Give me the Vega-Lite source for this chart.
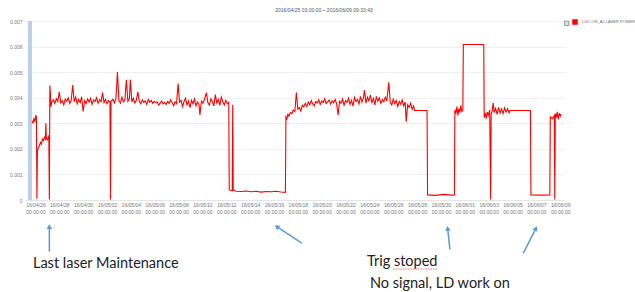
{
  "$schema": "https://vega.github.io/schema/vega-lite/v6.json",
  "width": 540,
  "height": 179,
  "autosize": {"type": "none"},
  "padding": {"left": 25, "top": 21, "right": 70, "bottom": 92},
  "background": "white",
  "config": {"view": {"stroke": null}, "font": "Liberation Sans"},
  "title": {"text": "2016/04/25 03:00:00 ~ 2016/06/09 09:33:43", "fontSize": 5, "fontWeight": "normal", "color": "#555", "anchor": "middle", "dx": 29, "offset": 6},
  "datasets": {
    "band": [{"t": "2016-04-25T09:00", "t2": "2016-04-25T17:00", "v": 0, "v2": 0.007}],
    "power": [
      {"t": "2016-04-25T17:00", "v": 0.00310},
      {"t": "2016-04-25T19:00", "v": 0.00302},
      {"t": "2016-04-25T21:00", "v": 0.00318},
      {"t": "2016-04-25T23:00", "v": 0.00308},
      {"t": "2016-04-26T01:00", "v": 0.00332},
      {"t": "2016-04-26T02:00", "v": 0.00322},
      {"t": "2016-04-26T03:00", "v": 0.00005},
      {"t": "2016-04-26T04:00", "v": 0.00192},
      {"t": "2016-04-26T06:00", "v": 0.00205},
      {"t": "2016-04-26T08:00", "v": 0.00212},
      {"t": "2016-04-26T10:00", "v": 0.00225},
      {"t": "2016-04-26T12:00", "v": 0.00218},
      {"t": "2016-04-26T14:00", "v": 0.00238},
      {"t": "2016-04-26T16:00", "v": 0.00232},
      {"t": "2016-04-26T18:00", "v": 0.00245},
      {"t": "2016-04-26T20:00", "v": 0.00238},
      {"t": "2016-04-26T21:00", "v": 0.00300},
      {"t": "2016-04-26T22:00", "v": 0.00240},
      {"t": "2016-04-27T00:00", "v": 0.00235},
      {"t": "2016-04-27T02:00", "v": 0.00248},
      {"t": "2016-04-27T03:00", "v": 0.00240},
      {"t": "2016-04-27T04:00", "v": 0.00002},
      {"t": "2016-04-27T05:00", "v": 0.00448},
      {"t": "2016-04-27T06:00", "v": 0.00420},
      {"t": "2016-04-27T07:00", "v": 0.00365},
      {"t": "2016-04-27T09:00", "v": 0.00383},
      {"t": "2016-04-27T12:00", "v": 0.00392},
      {"t": "2016-04-27T15:00", "v": 0.00378},
      {"t": "2016-04-27T18:00", "v": 0.00396},
      {"t": "2016-04-27T21:00", "v": 0.00385},
      {"t": "2016-04-28T00:00", "v": 0.00423},
      {"t": "2016-04-28T03:00", "v": 0.00380},
      {"t": "2016-04-28T06:00", "v": 0.00388},
      {"t": "2016-04-28T09:00", "v": 0.00372},
      {"t": "2016-04-28T12:00", "v": 0.00395},
      {"t": "2016-04-28T15:00", "v": 0.00386},
      {"t": "2016-04-28T18:00", "v": 0.00399},
      {"t": "2016-04-28T21:00", "v": 0.00378},
      {"t": "2016-04-29T00:00", "v": 0.00390},
      {"t": "2016-04-29T03:00", "v": 0.00450},
      {"t": "2016-04-29T06:00", "v": 0.00384},
      {"t": "2016-04-29T09:00", "v": 0.00402},
      {"t": "2016-04-29T12:00", "v": 0.00376},
      {"t": "2016-04-29T15:00", "v": 0.00393},
      {"t": "2016-04-29T18:00", "v": 0.00381},
      {"t": "2016-04-29T21:00", "v": 0.00404},
      {"t": "2016-04-30T00:00", "v": 0.00346},
      {"t": "2016-04-30T03:00", "v": 0.00389},
      {"t": "2016-04-30T06:00", "v": 0.00377},
      {"t": "2016-04-30T09:00", "v": 0.00395},
      {"t": "2016-04-30T12:00", "v": 0.00383},
      {"t": "2016-04-30T15:00", "v": 0.00398},
      {"t": "2016-04-30T18:00", "v": 0.00374},
      {"t": "2016-04-30T21:00", "v": 0.00391},
      {"t": "2016-05-01T00:00", "v": 0.00385},
      {"t": "2016-05-01T03:00", "v": 0.00400},
      {"t": "2016-05-01T06:00", "v": 0.00378},
      {"t": "2016-05-01T09:00", "v": 0.00392},
      {"t": "2016-05-01T12:00", "v": 0.00384},
      {"t": "2016-05-01T15:00", "v": 0.00420},
      {"t": "2016-05-01T18:00", "v": 0.00381},
      {"t": "2016-05-01T21:00", "v": 0.00393},
      {"t": "2016-05-02T00:00", "v": 0.00376},
      {"t": "2016-05-02T03:00", "v": 0.00389},
      {"t": "2016-05-02T06:00", "v": 0.00383},
      {"t": "2016-05-02T07:00", "v": 0.00002},
      {"t": "2016-05-02T08:00", "v": 0.00386},
      {"t": "2016-05-02T12:00", "v": 0.00394},
      {"t": "2016-05-02T15:00", "v": 0.00380},
      {"t": "2016-05-02T18:00", "v": 0.00397},
      {"t": "2016-05-02T21:00", "v": 0.00500},
      {"t": "2016-05-03T00:00", "v": 0.00388},
      {"t": "2016-05-03T03:00", "v": 0.00379},
      {"t": "2016-05-03T06:00", "v": 0.00402},
      {"t": "2016-05-03T09:00", "v": 0.00384},
      {"t": "2016-05-03T12:00", "v": 0.00391},
      {"t": "2016-05-03T15:00", "v": 0.00470},
      {"t": "2016-05-03T18:00", "v": 0.00386},
      {"t": "2016-05-03T21:00", "v": 0.00396},
      {"t": "2016-05-03T23:00", "v": 0.00470},
      {"t": "2016-05-04T02:00", "v": 0.00383},
      {"t": "2016-05-04T05:00", "v": 0.00398},
      {"t": "2016-05-04T08:00", "v": 0.00379},
      {"t": "2016-05-04T11:00", "v": 0.00390},
      {"t": "2016-05-04T14:00", "v": 0.00423},
      {"t": "2016-05-04T17:00", "v": 0.00385},
      {"t": "2016-05-04T20:00", "v": 0.00376},
      {"t": "2016-05-04T23:00", "v": 0.00392},
      {"t": "2016-05-05T02:00", "v": 0.00381},
      {"t": "2016-05-05T05:00", "v": 0.00388},
      {"t": "2016-05-05T08:00", "v": 0.00374},
      {"t": "2016-05-05T11:00", "v": 0.00393},
      {"t": "2016-05-05T14:00", "v": 0.00382},
      {"t": "2016-05-05T17:00", "v": 0.00389},
      {"t": "2016-05-05T20:00", "v": 0.00378},
      {"t": "2016-05-05T23:00", "v": 0.00386},
      {"t": "2016-05-06T02:00", "v": 0.00380},
      {"t": "2016-05-06T05:00", "v": 0.00384},
      {"t": "2016-05-06T08:00", "v": 0.00371},
      {"t": "2016-05-06T11:00", "v": 0.00379},
      {"t": "2016-05-06T14:00", "v": 0.00387},
      {"t": "2016-05-06T17:00", "v": 0.00376},
      {"t": "2016-05-06T20:00", "v": 0.00382},
      {"t": "2016-05-06T23:00", "v": 0.00374},
      {"t": "2016-05-07T02:00", "v": 0.00385},
      {"t": "2016-05-07T05:00", "v": 0.00378},
      {"t": "2016-05-07T08:00", "v": 0.00392},
      {"t": "2016-05-07T11:00", "v": 0.00381},
      {"t": "2016-05-07T14:00", "v": 0.00369},
      {"t": "2016-05-07T17:00", "v": 0.00384},
      {"t": "2016-05-07T20:00", "v": 0.00377},
      {"t": "2016-05-07T23:00", "v": 0.00455},
      {"t": "2016-05-08T02:00", "v": 0.00382},
      {"t": "2016-05-08T05:00", "v": 0.00390},
      {"t": "2016-05-08T08:00", "v": 0.00366},
      {"t": "2016-05-08T11:00", "v": 0.00385},
      {"t": "2016-05-08T14:00", "v": 0.00398},
      {"t": "2016-05-08T17:00", "v": 0.00372},
      {"t": "2016-05-08T20:00", "v": 0.00387},
      {"t": "2016-05-08T23:00", "v": 0.00361},
      {"t": "2016-05-09T02:00", "v": 0.00390},
      {"t": "2016-05-09T05:00", "v": 0.00376},
      {"t": "2016-05-09T08:00", "v": 0.00395},
      {"t": "2016-05-09T11:00", "v": 0.00368},
      {"t": "2016-05-09T14:00", "v": 0.00383},
      {"t": "2016-05-09T17:00", "v": 0.00374},
      {"t": "2016-05-09T19:00", "v": 0.00333},
      {"t": "2016-05-09T22:00", "v": 0.00387},
      {"t": "2016-05-10T01:00", "v": 0.00378},
      {"t": "2016-05-10T04:00", "v": 0.00392},
      {"t": "2016-05-10T08:00", "v": 0.00420},
      {"t": "2016-05-10T11:00", "v": 0.00380},
      {"t": "2016-05-10T14:00", "v": 0.00371},
      {"t": "2016-05-10T17:00", "v": 0.00396},
      {"t": "2016-05-10T20:00", "v": 0.00385},
      {"t": "2016-05-10T23:00", "v": 0.00368},
      {"t": "2016-05-11T02:00", "v": 0.00412},
      {"t": "2016-05-11T05:00", "v": 0.00379},
      {"t": "2016-05-11T08:00", "v": 0.00393},
      {"t": "2016-05-11T11:00", "v": 0.00370},
      {"t": "2016-05-11T14:00", "v": 0.00402},
      {"t": "2016-05-11T17:00", "v": 0.00385},
      {"t": "2016-05-11T20:00", "v": 0.00372},
      {"t": "2016-05-11T23:00", "v": 0.00390},
      {"t": "2016-05-12T02:00", "v": 0.00376},
      {"t": "2016-05-12T05:00", "v": 0.00382},
      {"t": "2016-05-12T06:00", "v": 0.00040},
      {"t": "2016-05-12T09:00", "v": 0.00037},
      {"t": "2016-05-12T12:00", "v": 0.00036},
      {"t": "2016-05-12T13:00", "v": 0.00372},
      {"t": "2016-05-12T14:00", "v": 0.00038},
      {"t": "2016-05-12T20:00", "v": 0.00034},
      {"t": "2016-05-13T06:00", "v": 0.00033},
      {"t": "2016-05-13T16:00", "v": 0.00035},
      {"t": "2016-05-14T02:00", "v": 0.00032},
      {"t": "2016-05-14T12:00", "v": 0.00034},
      {"t": "2016-05-14T22:00", "v": 0.00031},
      {"t": "2016-05-15T08:00", "v": 0.00033},
      {"t": "2016-05-15T18:00", "v": 0.00032},
      {"t": "2016-05-16T04:00", "v": 0.00034},
      {"t": "2016-05-16T14:00", "v": 0.00031},
      {"t": "2016-05-16T23:00", "v": 0.00030},
      {"t": "2016-05-17T00:00", "v": 0.00325},
      {"t": "2016-05-17T02:00", "v": 0.00318},
      {"t": "2016-05-17T04:00", "v": 0.00335},
      {"t": "2016-05-17T06:00", "v": 0.00328},
      {"t": "2016-05-17T09:00", "v": 0.00342},
      {"t": "2016-05-17T12:00", "v": 0.00338},
      {"t": "2016-05-17T15:00", "v": 0.00352},
      {"t": "2016-05-17T18:00", "v": 0.00346},
      {"t": "2016-05-17T21:00", "v": 0.00420},
      {"t": "2016-05-18T00:00", "v": 0.00355},
      {"t": "2016-05-18T03:00", "v": 0.00362},
      {"t": "2016-05-18T06:00", "v": 0.00348},
      {"t": "2016-05-18T09:00", "v": 0.00371},
      {"t": "2016-05-18T12:00", "v": 0.00364},
      {"t": "2016-05-18T15:00", "v": 0.00378},
      {"t": "2016-05-18T18:00", "v": 0.00366},
      {"t": "2016-05-18T21:00", "v": 0.00383},
      {"t": "2016-05-19T00:00", "v": 0.00372},
      {"t": "2016-05-19T03:00", "v": 0.00389},
      {"t": "2016-05-19T06:00", "v": 0.00376},
      {"t": "2016-05-19T09:00", "v": 0.00368},
      {"t": "2016-05-19T12:00", "v": 0.00385},
      {"t": "2016-05-19T15:00", "v": 0.00379},
      {"t": "2016-05-19T18:00", "v": 0.00392},
      {"t": "2016-05-19T21:00", "v": 0.00374},
      {"t": "2016-05-20T00:00", "v": 0.00387},
      {"t": "2016-05-20T03:00", "v": 0.00381},
      {"t": "2016-05-20T06:00", "v": 0.00396},
      {"t": "2016-05-20T09:00", "v": 0.00377},
      {"t": "2016-05-20T12:00", "v": 0.00384},
      {"t": "2016-05-20T15:00", "v": 0.00391},
      {"t": "2016-05-20T18:00", "v": 0.00375},
      {"t": "2016-05-20T21:00", "v": 0.00388},
      {"t": "2016-05-21T00:00", "v": 0.00380},
      {"t": "2016-05-21T03:00", "v": 0.00393},
      {"t": "2016-05-21T06:00", "v": 0.00377},
      {"t": "2016-05-21T09:00", "v": 0.00333},
      {"t": "2016-05-21T12:00", "v": 0.00386},
      {"t": "2016-05-21T15:00", "v": 0.00378},
      {"t": "2016-05-21T18:00", "v": 0.00395},
      {"t": "2016-05-21T21:00", "v": 0.00371},
      {"t": "2016-05-22T00:00", "v": 0.00389},
      {"t": "2016-05-22T03:00", "v": 0.00382},
      {"t": "2016-05-22T06:00", "v": 0.00398},
      {"t": "2016-05-22T09:00", "v": 0.00374},
      {"t": "2016-05-22T12:00", "v": 0.00390},
      {"t": "2016-05-22T15:00", "v": 0.00367},
      {"t": "2016-05-22T18:00", "v": 0.00401},
      {"t": "2016-05-22T21:00", "v": 0.00385},
      {"t": "2016-05-23T00:00", "v": 0.00393},
      {"t": "2016-05-23T03:00", "v": 0.00376},
      {"t": "2016-05-23T06:00", "v": 0.00405},
      {"t": "2016-05-23T09:00", "v": 0.00383},
      {"t": "2016-05-23T12:00", "v": 0.00398},
      {"t": "2016-05-23T14:00", "v": 0.00430},
      {"t": "2016-05-23T17:00", "v": 0.00379},
      {"t": "2016-05-23T20:00", "v": 0.00402},
      {"t": "2016-05-23T23:00", "v": 0.00388},
      {"t": "2016-05-24T02:00", "v": 0.00410},
      {"t": "2016-05-24T05:00", "v": 0.00381},
      {"t": "2016-05-24T08:00", "v": 0.00397},
      {"t": "2016-05-24T11:00", "v": 0.00372},
      {"t": "2016-05-24T14:00", "v": 0.00405},
      {"t": "2016-05-24T17:00", "v": 0.00386},
      {"t": "2016-05-24T20:00", "v": 0.00399},
      {"t": "2016-05-24T23:00", "v": 0.00378},
      {"t": "2016-05-25T02:00", "v": 0.00393},
      {"t": "2016-05-25T05:00", "v": 0.00384},
      {"t": "2016-05-25T08:00", "v": 0.00402},
      {"t": "2016-05-25T11:00", "v": 0.00387},
      {"t": "2016-05-25T15:00", "v": 0.00460},
      {"t": "2016-05-25T18:00", "v": 0.00381},
      {"t": "2016-05-25T21:00", "v": 0.00372},
      {"t": "2016-05-26T00:00", "v": 0.00394},
      {"t": "2016-05-26T03:00", "v": 0.00377},
      {"t": "2016-05-26T06:00", "v": 0.00389},
      {"t": "2016-05-26T09:00", "v": 0.00366},
      {"t": "2016-05-26T12:00", "v": 0.00385},
      {"t": "2016-05-26T15:00", "v": 0.00374},
      {"t": "2016-05-26T18:00", "v": 0.00391},
      {"t": "2016-05-26T21:00", "v": 0.00368},
      {"t": "2016-05-27T00:00", "v": 0.00383},
      {"t": "2016-05-27T02:00", "v": 0.00306},
      {"t": "2016-05-27T05:00", "v": 0.00372},
      {"t": "2016-05-27T08:00", "v": 0.00362},
      {"t": "2016-05-27T11:00", "v": 0.00378},
      {"t": "2016-05-27T14:00", "v": 0.00355},
      {"t": "2016-05-27T17:00", "v": 0.00368},
      {"t": "2016-05-27T19:00", "v": 0.00350},
      {"t": "2016-05-28T20:00", "v": 0.00350},
      {"t": "2016-05-28T21:00", "v": 0.00020},
      {"t": "2016-05-29T12:00", "v": 0.00018},
      {"t": "2016-05-30T06:00", "v": 0.00022},
      {"t": "2016-05-30T20:00", "v": 0.00019},
      {"t": "2016-05-31T03:00", "v": 0.00020},
      {"t": "2016-05-31T04:00", "v": 0.00352},
      {"t": "2016-05-31T06:00", "v": 0.00338},
      {"t": "2016-05-31T08:00", "v": 0.00365},
      {"t": "2016-05-31T10:00", "v": 0.00331},
      {"t": "2016-05-31T12:00", "v": 0.00358},
      {"t": "2016-05-31T14:00", "v": 0.00342},
      {"t": "2016-05-31T16:00", "v": 0.00370},
      {"t": "2016-05-31T18:00", "v": 0.00346},
      {"t": "2016-05-31T20:00", "v": 0.00352},
      {"t": "2016-05-31T21:00", "v": 0.00608},
      {"t": "2016-06-02T14:00", "v": 0.00608},
      {"t": "2016-06-02T15:00", "v": 0.00322},
      {"t": "2016-06-02T17:00", "v": 0.00340},
      {"t": "2016-06-02T19:00", "v": 0.00318},
      {"t": "2016-06-02T21:00", "v": 0.00345},
      {"t": "2016-06-02T23:00", "v": 0.00330},
      {"t": "2016-06-03T02:00", "v": 0.00352},
      {"t": "2016-06-03T04:00", "v": 0.00002},
      {"t": "2016-06-03T05:00", "v": 0.00336},
      {"t": "2016-06-03T07:00", "v": 0.00348},
      {"t": "2016-06-03T09:00", "v": 0.00380},
      {"t": "2016-06-03T11:00", "v": 0.00342},
      {"t": "2016-06-03T14:00", "v": 0.00358},
      {"t": "2016-06-03T17:00", "v": 0.00335},
      {"t": "2016-06-03T20:00", "v": 0.00362},
      {"t": "2016-06-03T23:00", "v": 0.00340},
      {"t": "2016-06-04T02:00", "v": 0.00356},
      {"t": "2016-06-04T05:00", "v": 0.00338},
      {"t": "2016-06-04T08:00", "v": 0.00360},
      {"t": "2016-06-04T11:00", "v": 0.00343},
      {"t": "2016-06-04T14:00", "v": 0.00357},
      {"t": "2016-06-04T17:00", "v": 0.00341},
      {"t": "2016-06-04T19:00", "v": 0.00350},
      {"t": "2016-06-06T12:00", "v": 0.00350},
      {"t": "2016-06-06T13:00", "v": 0.00020},
      {"t": "2016-06-07T12:00", "v": 0.00019},
      {"t": "2016-06-08T03:00", "v": 0.00020},
      {"t": "2016-06-08T04:00", "v": 0.00325},
      {"t": "2016-06-08T08:00", "v": 0.00318},
      {"t": "2016-06-08T12:00", "v": 0.00330},
      {"t": "2016-06-08T13:00", "v": 0.00002},
      {"t": "2016-06-08T14:00", "v": 0.00338},
      {"t": "2016-06-08T16:00", "v": 0.00322},
      {"t": "2016-06-08T18:00", "v": 0.00345},
      {"t": "2016-06-08T20:00", "v": 0.00315},
      {"t": "2016-06-08T22:00", "v": 0.00340},
      {"t": "2016-06-09T00:00", "v": 0.00328},
      {"t": "2016-06-09T02:00", "v": 0.00336}
    ],
    "notes": [
      {"t": "2016-04-25T19:00", "v": -0.0025, "text": "Last laser Maintenance"},
      {"t": "2016-05-23T19:00", "v": -0.00242, "text": "Trig stoped"},
      {"t": "2016-05-24T01:00", "v": -0.00329, "text": "No signal, LD work on"}
    ],
    "arrows": [
      {"t": "2016-04-27T04:00", "v": -0.00202, "t2": "2016-04-27T04:00", "v2": -0.00104},
      {"t": "2016-05-18T08:00", "v": -0.00169, "t2": "2016-05-16T05:30", "v2": -0.00104},
      {"t": "2016-05-30T18:00", "v": -0.00193, "t2": "2016-05-30T13:30", "v2": -0.00111},
      {"t": "2016-06-05T21:40", "v": -0.00208, "t2": "2016-06-06T23:10", "v2": -0.00111}
    ],
    "heads": [
      {"id": 1, "t": "2016-04-27T04:00", "v": -0.00104},
      {"id": 2, "t": "2016-05-16T05:30", "v": -0.00104},
      {"id": 3, "t": "2016-05-30T13:30", "v": -0.00111},
      {"id": 4, "t": "2016-06-06T23:10", "v": -0.00111}
    ],
    "squiggle": [{"t": "2016-05-25T23:30", "t2": "2016-05-29T18:00", "v": -0.0027}],
    "checkbox": [{"t": "2016-06-09T13:00", "v": 0.00691}]
  },
  "encoding": {
    "x": {"field": "t", "type": "temporal",
      "scale": {"domain": [{"year": 2016, "month": 4, "date": 25, "hours": 3}, {"year": 2016, "month": 6, "date": 9, "hours": 9, "minutes": 33, "seconds": 43}]},
      "axis": {
        "title": null,
        "values": [
          {"year": 2016, "month": 4, "date": 26}, {"year": 2016, "month": 4, "date": 28}, {"year": 2016, "month": 4, "date": 30},
          {"year": 2016, "month": 5, "date": 2}, {"year": 2016, "month": 5, "date": 4}, {"year": 2016, "month": 5, "date": 6},
          {"year": 2016, "month": 5, "date": 8}, {"year": 2016, "month": 5, "date": 10}, {"year": 2016, "month": 5, "date": 12},
          {"year": 2016, "month": 5, "date": 14}, {"year": 2016, "month": 5, "date": 16}, {"year": 2016, "month": 5, "date": 18},
          {"year": 2016, "month": 5, "date": 20}, {"year": 2016, "month": 5, "date": 22}, {"year": 2016, "month": 5, "date": 24},
          {"year": 2016, "month": 5, "date": 26}, {"year": 2016, "month": 5, "date": 28}, {"year": 2016, "month": 5, "date": 30},
          {"year": 2016, "month": 6, "date": 1}, {"year": 2016, "month": 6, "date": 3}, {"year": 2016, "month": 6, "date": 5},
          {"year": 2016, "month": 6, "date": 7}, {"year": 2016, "month": 6, "date": 9}
        ],
        "labelExpr": "[timeFormat(datum.value, '%y/%m/%d'), timeFormat(datum.value, '%H:%M:%S')]",
        "labelFontSize": 5, "labelColor": "#777", "labelPadding": 2, "labelLineHeight": 7,
        "labelFlush": false, "labelOverlap": false, "labelBound": false,
        "grid": false, "ticks": false, "domainColor": "#e4e4e4"
      }},
    "y": {"field": "v", "type": "quantitative",
      "scale": {"domain": [0, 0.007], "nice": false, "zero": false},
      "axis": {
        "title": null,
        "values": [0, 0.001, 0.002, 0.003, 0.004, 0.005, 0.006, 0.007],
        "labelExpr": "datum.value == 0 ? '0' : format(datum.value, '.3f')",
        "labelFontSize": 5, "labelColor": "#777", "labelPadding": 3,
        "labelOverlap": false, "labelFlush": false,
        "domain": false, "ticks": false, "gridColor": "#efefef"
      }}
  },
  "layer": [
    {
      "data": {"name": "band"},
      "mark": {"type": "rect", "fill": "#b9d0e8", "opacity": 1},
      "encoding": {
        "x2": {"field": "t2"},
        "y2": {"field": "v2"}
      }
    },
    {
      "data": {"name": "power"},
      "mark": {"type": "line", "strokeWidth": 1.1},
      "encoding": {
        "color": {"datum": "LULI OR_A1 LASER POWER", "type": "nominal", "scale": {"range": ["#ff0000"]}, "legend": {
          "orient": "none", "legendX": 547, "legendY": -2, "title": null, "padding": 0,
          "symbolType": "square", "symbolSize": 30, "symbolFillColor": "#ff0000", "symbolStrokeColor": "#ff0000", "symbolStrokeWidth": 0,
          "labelFontSize": 4, "labelColor": "#666", "labelOffset": 4, "labelLimit": 0
        }}
      }
    },
    {
      "data": {"name": "checkbox"},
      "mark": {"type": "point", "shape": "square", "filled": true, "fill": "#dddddd", "stroke": "#666", "strokeWidth": 0.6, "size": 20, "opacity": 1, "clip": false}
    },
    {
      "data": {"name": "notes"},
      "mark": {"type": "text", "align": "left", "baseline": "middle", "font": "Lato", "fontSize": 14.5, "color": "#222", "clip": false},
      "encoding": {
        "text": {"field": "text"}
      }
    },
    {
      "data": {"name": "squiggle"},
      "mark": {"type": "rule", "color": "#e05050", "strokeWidth": 0.8, "strokeDash": [1.5, 1], "clip": false},
      "encoding": {
        "x2": {"field": "t2"}
      }
    },
    {
      "data": {"name": "arrows"},
      "mark": {"type": "rule", "color": "#5b9bd5", "strokeWidth": 1.5, "clip": false},
      "encoding": {
        "x2": {"field": "t2"},
        "y2": {"field": "v2"}
      }
    },
    {
      "data": {"name": "heads"},
      "transform": [{"filter": "datum.id == 1"}],
      "mark": {"type": "point", "shape": "triangle-up", "filled": true, "color": "#5b9bd5", "size": 30, "angle": 0, "opacity": 1, "clip": false}
    },
    {
      "data": {"name": "heads"},
      "transform": [{"filter": "datum.id == 2"}],
      "mark": {"type": "point", "shape": "triangle-up", "filled": true, "color": "#5b9bd5", "size": 30, "angle": 304, "opacity": 1, "clip": false}
    },
    {
      "data": {"name": "heads"},
      "transform": [{"filter": "datum.id == 3"}],
      "mark": {"type": "point", "shape": "triangle-up", "filled": true, "color": "#5b9bd5", "size": 30, "angle": 354, "opacity": 1, "clip": false}
    },
    {
      "data": {"name": "heads"},
      "transform": [{"filter": "datum.id == 4"}],
      "mark": {"type": "point", "shape": "triangle-up", "filled": true, "color": "#5b9bd5", "size": 30, "angle": 27, "opacity": 1, "clip": false}
    }
  ]
}
